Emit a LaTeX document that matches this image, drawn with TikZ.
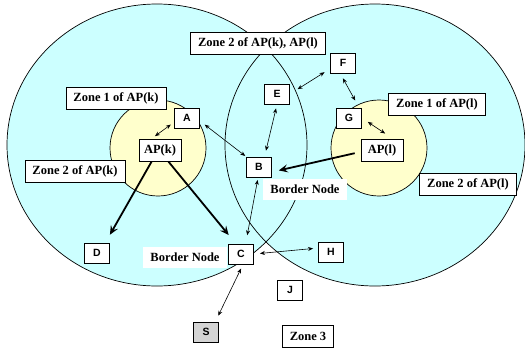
\documentclass[tikz,border=0pt]{standalone}
\usepackage{fontspec}
\setmainfont{Liberation Serif}
\setsansfont{Liberation Sans}
\usetikzlibrary{arrows.meta}
\definecolor{zonecyan}{HTML}{CCFFFF}
\definecolor{zoneyellow}{HTML}{FFFFCC}
\definecolor{srcgray}{HTML}{D4D4D4}
\begin{document}
\begin{tikzpicture}[x=1pt,y=-1pt,
  tagfont/.style={font=\fontsize{12.5}{14}\selectfont\bfseries},
  zonetag/.style={draw, fill=white, line width=0.9pt, tagfont,
    inner xsep=7.5pt, inner ysep=0pt, minimum height=22pt},
  bordertag/.style={fill=white, tagfont, inner xsep=7pt, inner ysep=0pt,
    minimum height=21pt},
  apbox/.style={draw, fill=white, line width=0.9pt, tagfont,
    minimum width=42pt, minimum height=22pt, inner sep=0pt},
  station/.style={draw, fill=white, line width=0.9pt,
    font=\fontsize{10.5}{12}\selectfont\sffamily\bfseries,
    minimum width=25pt, minimum height=20pt, inner sep=0pt},
  link/.style={{Stealth[length=5pt,width=4pt]}-{Stealth[length=5pt,width=4pt]},
    line width=0.6pt},
  route/.style={-{Stealth[length=9pt,width=8pt,inset=3.5pt]}, line width=1.8pt},
]
\useasboundingbox (0,0) rectangle (525,349);

% zone 2 areas of the two access points
\fill[zonecyan] (157,145) ellipse [x radius=150pt, y radius=141pt];
\fill[zonecyan] (375,145) ellipse [x radius=150pt, y radius=141pt];
\draw[line width=0.7pt] (157,145) ellipse [x radius=150pt, y radius=141pt];
\draw[line width=0.7pt] (375,145) ellipse [x radius=150pt, y radius=141pt];

% zone 1 areas
\draw[line width=0.7pt, fill=zoneyellow] (158,148) circle [radius=48pt];
\draw[line width=0.7pt, fill=zoneyellow] (379,148) circle [radius=48pt];

% zone labels
\node[zonetag] (z2kl) at (258,43) {Zone 2 of AP(k), AP(l)};
\node[zonetag] (z1k) at (116,98) {Zone 1 of AP(k)};
\node[zonetag] (z2k) at (75,171) {Zone 2 of AP(k)};
\node[zonetag] (z1l) at (437,104) {Zone 1 of AP(l)};
\node[zonetag] (z2l) at (468,184) {Zone 2 of AP(l)};
\node[zonetag] (z3) at (308,336) {Zone 3};
\node[bordertag] (bnb) at (305,189) {Border Node};
\node[bordertag] (bnc) at (185,257) {Border Node};

% access points and stations
\node[apbox] (apk) at (160,150) {AP(k)};
\node[apbox] (apl) at (382,150) {AP(l)};
\node[station] (a) at (187,118) {A};
\node[station] (b) at (259,167) {B};
\node[station] (c) at (241,254) {C};
\node[station] (d) at (97,253) {D};
\node[station] (e) at (277,94) {E};
\node[station] (f) at (343,63) {F};
\node[station] (g) at (349,118) {G};
\node[station] (h) at (331,252) {H};
\node[station] (j) at (290,290) {J};
\node[station, fill=srcgray] (s) at (206,332) {S};

% neighbour links
\draw[link, shorten <=4pt, shorten >=4pt] (apk.126) -- (a.198);
\draw[link, shorten <=6pt, shorten >=1pt] (a.347) -- (b.north west);
\draw[link, shorten <=2.5pt, shorten >=8.5pt] (b.265) -- (c.66);
\draw[link, shorten <=4pt, shorten >=6pt] (e.south) -- (b.62);
\draw[link, shorten <=9pt, shorten >=6.5pt] (e.east) -- (f.204);
\draw[link, shorten <=5.5pt, shorten >=8pt] (f.255) -- (g.46);
\draw[link, shorten <=7pt, shorten >=9pt] (g.east) -- (apl.47);
\draw[link, shorten <=6pt, shorten >=5pt] (c.east) -- (h.163);
\draw[link, shorten <=4.5pt, shorten >=6.5pt] (c.281) -- (s.48);

% routes towards the border nodes
\draw[route, shorten >=9pt] (apk.234) -- (d.51);
\draw[route, shorten >=11pt] (apk.306) -- (c.117);
\draw[route, shorten <=6pt, shorten >=7pt] (apl.185) -- (b.339);
\end{tikzpicture}
\end{document}
